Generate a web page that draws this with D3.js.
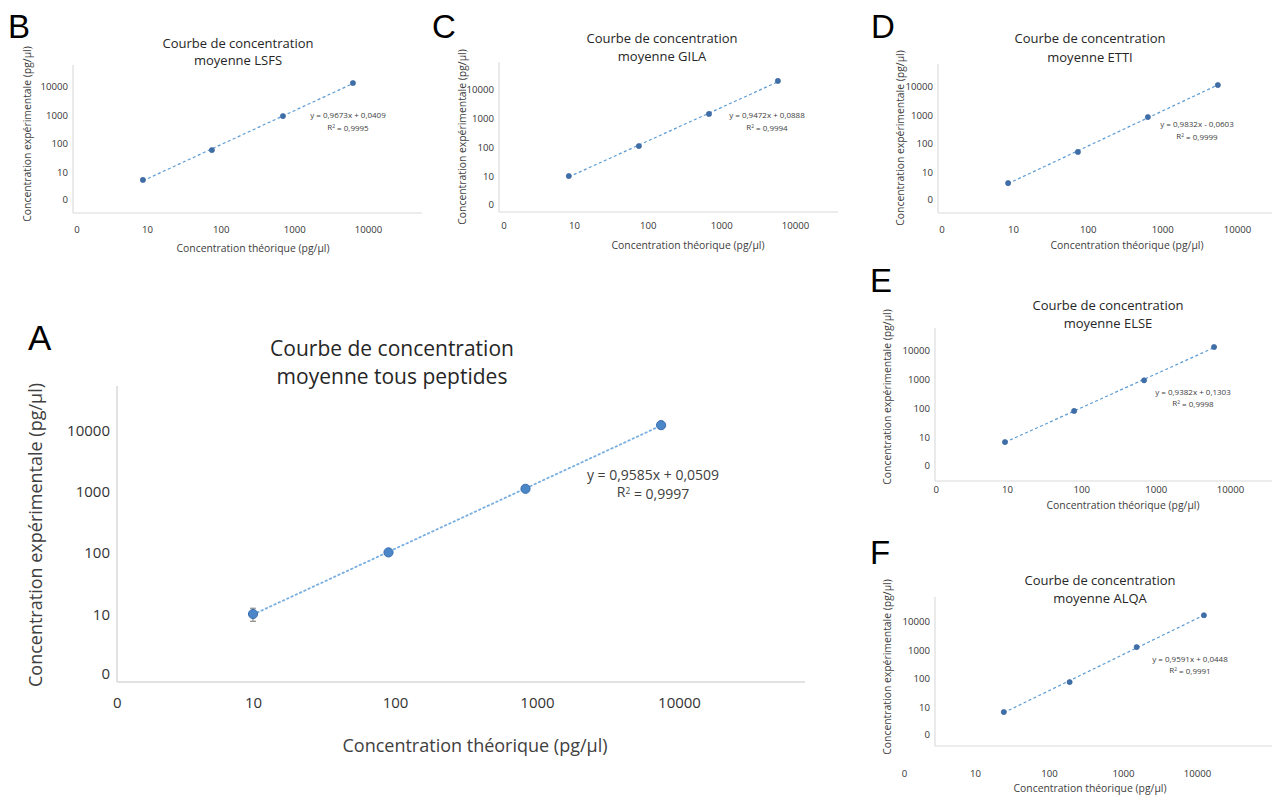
<!DOCTYPE html>
<html><head><meta charset="utf-8">
<script src="https://cdn.jsdelivr.net/npm/d3@7"></script>
<style>body{margin:0;background:#fff}svg{display:block}text{font-family:"Open Sans",sans-serif}</style>
</head><body><svg id="c" width="1275" height="796"></svg>
<script>
// ---- data ----
const panelLetters = ["A", "B", "C", "D", "E", "F"];
const peptideNames = ["tous peptides", "LSFS", "GILA", "ETTI", "ELSE", "ALQA"];
const equationTexts = ["y = 0,9585x + 0,0509", "y = 0,9673x + 0,0409", "y = 0,9472x + 0,0888",
                       "y = 0,9832x - 0,0603", "y = 0,9382x + 0,1303", "y = 0,9591x + 0,0448"];
const r2Texts = ["0,9997", "0,9995", "0,9994", "0,9999", "0,9998", "0,9991"];
const tickValues = [1.1, 10, 100, 1000, 10000];
const tickLabels = ["0", "10", "100", "1000", "10000"];
const xTitle = "Concentration théorique (pg/µl)";
const yTitle = "Concentration expérimentale (pg/µl)";

const theoA = [10, 90, 830, 7480],    expA = [10, 101, 1100, 12000],  errA = [2.4, 5, 40, 350];
const theoB = [8.8, 76, 700, 6240],   expB = [5.3, 58, 890, 12700],   errB = [0.3, 2, 20, 300];
const theoC = [8.5, 76, 680, 5860],   expC = [10, 108, 1380, 19000],  errC = [1.3, 3, 40, 500];
const theoD = [8.6, 74, 640, 5540],   expD = [4.1, 50, 825, 10800],   errD = [0.6, 2, 25, 300];
const theoE = [9.4, 80, 698, 6100],   expE = [6.7, 79, 900, 12700],   errE = [0.3, 2, 25, 300];
const theoF = [24.5, 190, 1530, 12400], expF = [6.7, 74, 1230, 15900], errF = [0.9, 3, 40, 500];

const theoAll = [theoA, theoB, theoC, theoD, theoE, theoF];
const expAll = [expA, expB, expC, expD, expE, expF];
const errAll = [errA, errB, errC, errD, errE, errF];

// ---- layout (pixels) ----
const layouts = [
  {ax:117, right:805, top:386, bottom:682, x10:253, x10k:679, y10:614, y10k:430, xLabY:703, yLabR:110,
   titleX:392, titleY:[349,377], letterX:28, letterY:350, xtX:475, xtY:746, ytX:36, ytY:535, eqX:653, eqY:[475,492], big:true},
  {ax:73, right:422, top:65, bottom:213, x10:147, x10k:368, y10:172, y10k:86, xLabY:230, yLabR:68,
   titleX:238, titleY:[43,60], letterX:8, letterY:38, xtX:253, xtY:248, ytX:27, ytY:134, eqX:348, eqY:[115,127]},
  {ax:499, right:838, top:62, bottom:212, x10:574, x10k:795, y10:176, y10k:89, xLabY:226, yLabR:494,
   titleX:662, titleY:[38,56], letterX:432, letterY:38, xtX:688, xtY:245, ytX:462, ytY:137, eqX:767, eqY:[115,127]},
  {ax:938, right:1272, top:64, bottom:213, x10:1013, x10k:1237, y10:172, y10k:86, xLabY:230, yLabR:933,
   titleX:1090, titleY:[38,57], letterX:871, letterY:38, xtX:1127, xtY:245, ytX:900, ytY:138, eqX:1197, eqY:[124,136]},
  {ax:935, right:1272, top:328, bottom:481, x10:1007, x10k:1230, y10:437, y10k:350, xLabY:490, yLabR:930,
   titleX:1108, titleY:[305,323], letterX:870, letterY:292, xtX:1123, xtY:505, ytX:887, ytY:397, eqX:1193, eqY:[392,403]},
  {ax:935, right:1272, top:597, bottom:746, x10:975, x10k:1197, y10:707, y10k:621, xLabY:774, yLabR:930,
   titleX:1100, titleY:[580,598], letterX:870, letterY:564, xtX:1090, xtY:788, ytX:887, ytY:667, eqX:1190, eqY:[659,670]}
];

const svg = d3.select("#c");

layouts.forEach((L, i) => {
  const big = !!L.big;
  const S = big
    ? {title:21, tick:15, at:18, eq:14, r:4.6, lw:1.8, dash:"1.5,3.2", axw:1.5}
    : {title:13, tick:9.6, at:10.4, eq:8, r:2.6, lw:1.2, dash:"3,2.5", axw:1.1};
  const g = svg.append("g");
  const x = d3.scaleLog().domain([10, 10000]).range([L.x10, L.x10k]);
  const y = d3.scaleLog().domain([10, 10000]).range([L.y10, L.y10k]);

  // panel letter
  g.append("text").attr("x", L.letterX).attr("y", L.letterY)
    .style("font-family", "'Liberation Sans', Arial, sans-serif").style("font-size", big ? "35px" : "33px")
    .attr("fill", "#000").text(panelLetters[i]);

  // title
  const tt = g.append("text").attr("text-anchor", "middle").attr("fill", "#262626").style("font-size", S.title + "px");
  tt.append("tspan").attr("x", L.titleX).attr("y", L.titleY[0]).attr("dy", "0.35em").text("Courbe de concentration");
  tt.append("tspan").attr("x", L.titleX).attr("y", L.titleY[1]).attr("dy", "0.35em").text("moyenne " + peptideNames[i]);

  // axis lines
  g.append("line").attr("x1", L.ax).attr("x2", L.ax).attr("y1", L.top).attr("y2", L.bottom)
    .attr("stroke", "#d9d9d9").attr("stroke-width", S.axw);
  g.append("line").attr("x1", L.ax).attr("x2", L.right).attr("y1", L.bottom).attr("y2", L.bottom)
    .attr("stroke", "#d9d9d9").attr("stroke-width", S.axw);

  // tick labels via d3 axes
  const xa = g.append("g").attr("transform", `translate(0,${L.xLabY})`)
    .call(d3.axisBottom(x).tickValues(tickValues).tickSize(0).tickPadding(0).tickFormat((d, k) => tickLabels[k]));
  xa.select(".domain").remove();
  xa.selectAll("text").attr("y", 0).attr("dy", "0.35em").attr("fill", "#333")
    .style("font-size", S.tick + "px").style("font-family", "'Open Sans', sans-serif");
  const ya = g.append("g").attr("transform", `translate(${L.yLabR},0)`)
    .call(d3.axisLeft(y).tickValues(tickValues).tickSize(0).tickPadding(0).tickFormat((d, k) => tickLabels[k]));
  ya.select(".domain").remove();
  ya.selectAll("text").attr("x", 0).attr("dy", "0.35em").attr("fill", "#333")
    .style("font-size", S.tick + "px").style("font-family", "'Open Sans', sans-serif");

  // axis titles
  g.append("text").attr("x", L.xtX).attr("y", L.xtY).attr("dy", "0.35em").attr("text-anchor", "middle")
    .attr("fill", "#404040").style("font-size", S.at + "px").text(xTitle);
  g.append("text").attr("transform", `translate(${L.ytX},${L.ytY}) rotate(-90)`).attr("dy", "0.35em")
    .attr("text-anchor", "middle").attr("fill", "#404040").style("font-size", S.at + "px").text(yTitle);

  // data
  const pts = theoAll[i].map((t, k) => ({t, e: expAll[i][k], err: errAll[i][k]}));

  // trend line: least squares in log space
  const lx = pts.map(p => Math.log10(p.t)), ly = pts.map(p => Math.log10(p.e));
  const mx = d3.mean(lx), my = d3.mean(ly);
  const slope = d3.sum(lx.map((v, k) => (v - mx) * (ly[k] - my))) / d3.sum(lx.map(v => (v - mx) ** 2));
  const icpt = my - slope * mx;
  const ext = d3.extent(pts, p => p.t);
  const fit = t => Math.pow(10, icpt + slope * Math.log10(t));
  g.append("path").datum(ext)
    .attr("d", d3.line().x(t => x(t)).y(t => y(fit(t))))
    .attr("fill", "none").attr("stroke", big ? "#78afe0" : "#5b9bd5").attr("stroke-width", S.lw)
    .attr("stroke-dasharray", S.dash).attr("stroke-linecap", big ? "round" : "butt");

  // error bars
  const cap = big ? 3 : 1.6;
  const eb = g.selectAll(".eb").data(pts).enter().append("g").attr("stroke", "#8c8c8c").attr("stroke-width", big ? 1.2 : 0.8);
  eb.append("line").attr("x1", p => x(p.t)).attr("x2", p => x(p.t)).attr("y1", p => y(p.e - p.err)).attr("y2", p => y(p.e + p.err));
  eb.append("line").attr("x1", p => x(p.t) - cap).attr("x2", p => x(p.t) + cap).attr("y1", p => y(p.e - p.err)).attr("y2", p => y(p.e - p.err));
  eb.append("line").attr("x1", p => x(p.t) - cap).attr("x2", p => x(p.t) + cap).attr("y1", p => y(p.e + p.err)).attr("y2", p => y(p.e + p.err));

  // points
  g.selectAll(".pt").data(pts).enter().append("circle")
    .attr("cx", p => x(p.t)).attr("cy", p => y(p.e)).attr("r", S.r)
    .attr("fill", big ? "#4a86c8" : "#3f6fa8").attr("stroke", big ? "#3b6fae" : "#35609a").attr("stroke-width", big ? 1 : 0.6);

  // equation
  const eq = g.append("text").attr("text-anchor", "middle").attr("fill", "#404040").style("font-size", S.eq + "px");
  eq.append("tspan").attr("x", L.eqX).attr("y", L.eqY[0]).attr("dy", "0.35em").text(equationTexts[i]);
  const r2 = g.append("text").attr("x", L.eqX).attr("y", L.eqY[1]).attr("dy", "0.35em").attr("text-anchor", "middle")
    .attr("fill", "#404040").style("font-size", S.eq + "px");
  r2.append("tspan").text("R");
  r2.append("tspan").attr("dy", "-0.4em").style("font-size", (S.eq * 0.6) + "px").text("2");
  r2.append("tspan").attr("dy", "0.4em").text(" = " + r2Texts[i]);
});
</script></body></html>
